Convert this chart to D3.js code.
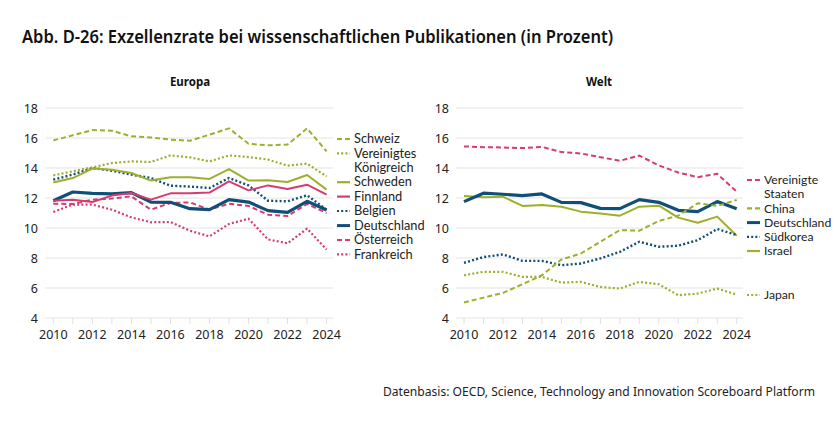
<!DOCTYPE html>
<html><head><meta charset="utf-8">
<script src="https://cdn.jsdelivr.net/npm/d3@7/dist/d3.min.js"></script>
<style>
body{margin:0;background:#fff;}
svg{display:block;font-family:"Noto Sans","Open Sans",sans-serif;}
</style></head>
<body>
<script>
const years = [2010,2011,2012,2013,2014,2015,2016,2017,2018,2019,2020,2021,2022,2023,2024];
const yTicks = [4,6,8,10,12,14,16,18];
const xTicks = [2010,2012,2014,2016,2018,2020,2022,2024];

// Europa
const schweiz      = [15.84,16.18,16.53,16.49,16.11,16.04,15.89,15.82,16.22,16.64,15.62,15.51,15.56,16.64,15.11];
const vereinigtesK = [13.51,13.78,14.04,14.33,14.44,14.40,14.84,14.71,14.44,14.84,14.73,14.56,14.16,14.29,13.44];
const schweden     = [13.04,13.33,13.96,13.89,13.67,13.16,13.38,13.38,13.27,13.93,13.16,13.18,13.07,13.53,12.56];
const finnland     = [11.82,11.89,11.73,12.16,12.33,11.89,12.31,12.31,12.36,13.11,12.51,12.84,12.60,12.89,12.22];
const belgien      = [13.22,13.56,14.00,13.82,13.56,13.33,12.82,12.76,12.67,13.33,12.84,11.82,11.78,12.18,11.22];
const deutschlandE = [11.82,12.40,12.31,12.27,12.36,11.73,11.71,11.29,11.22,11.89,11.73,11.16,11.04,11.78,11.20];
const oesterreich  = [11.62,11.60,11.89,11.96,12.11,11.22,11.67,11.71,11.22,11.62,11.47,10.89,10.80,11.60,11.00];
const frankreich   = [11.07,11.56,11.56,11.22,10.71,10.38,10.40,9.82,9.44,10.27,10.62,9.24,8.98,9.96,8.56];

// Welt
const usa          = [15.44,15.39,15.37,15.33,15.41,15.06,14.97,14.72,14.48,14.83,14.17,13.70,13.39,13.61,12.43];
const china        = [5.03,5.36,5.67,6.25,6.85,7.90,8.30,9.08,9.86,9.82,10.47,10.82,11.65,11.47,11.87];
const deutschlandW = [11.76,12.32,12.25,12.16,12.27,11.71,11.69,11.31,11.29,11.89,11.71,11.18,11.09,11.76,11.29];
const suedkorea    = [7.68,8.06,8.24,7.81,7.81,7.52,7.63,7.97,8.41,9.08,8.75,8.82,9.19,9.93,9.53];
const israel       = [12.14,12.05,12.09,11.47,11.54,11.42,11.09,10.96,10.82,11.42,11.49,10.69,10.35,10.76,9.48];
const japan        = [6.85,7.08,7.08,6.74,6.74,6.36,6.41,6.07,5.96,6.41,6.25,5.52,5.63,5.96,5.56];

const labelsEuropa = [["Schweiz"],["Vereinigtes","Königreich"],["Schweden"],["Finnland"],["Belgien"],["Deutschland"],["Österreich"],["Frankreich"]];
const labelsWelt   = [["Vereinigte","Staaten"],["China"],["Deutschland"],["Südkorea"],["Israel"],["Japan"]];

const GREEN="#9fae2b", PINK="#d63c70", BLUE="#0f4f78";
const DASH="5,3", DOT="2,2.2";

const europa = [
  {v:schweiz, c:GREEN, d:DASH, w:2},
  {v:vereinigtesK, c:GREEN, d:DOT, w:2.2},
  {v:schweden, c:GREEN, d:null, w:2},
  {v:finnland, c:PINK, d:null, w:2},
  {v:belgien, c:BLUE, d:DOT, w:2.4},
  {v:deutschlandE, c:BLUE, d:null, w:3.2},
  {v:oesterreich, c:PINK, d:DASH, w:2},
  {v:frankreich, c:PINK, d:DOT, w:2.2}
];
const welt = [
  {v:usa, c:PINK, d:DASH, w:2},
  {v:china, c:GREEN, d:DASH, w:2},
  {v:deutschlandW, c:BLUE, d:null, w:3.2},
  {v:suedkorea, c:BLUE, d:DOT, w:2.4},
  {v:israel, c:GREEN, d:null, w:2},
  {v:japan, c:GREEN, d:DOT, w:2.2}
];

const W=840,H=422;
const svg=d3.select("body").append("svg").attr("width",W).attr("height",H);

svg.append("text").attr("x",22).attr("y",43)
  .attr("font-size",18).attr("font-weight",600).attr("fill","#111")
  .attr("textLength",591).attr("lengthAdjust","spacingAndGlyphs")
  .text("Abb. D-26: Exzellenzrate bei wissenschaftlichen Publikationen (in Prozent)");

function panel(opt){
  const x=d3.scaleLinear().domain([2010,2024]).range([opt.x0,opt.x1]);
  const y=d3.scaleLinear().domain([4,18]).range([318,108]);
  const g=svg.append("g");
  g.append("text").attr("x",opt.titleX).attr("y",86).attr("text-anchor","middle")
    .attr("font-size",11.5).attr("font-weight",700).attr("fill","#111").text(opt.title);
  g.selectAll("line.grid").data(yTicks).join("line")
    .attr("x1",opt.g0).attr("x2",opt.g1).attr("y1",d=>y(d)).attr("y2",d=>y(d))
    .attr("stroke","#e4e4e4").attr("stroke-width",1);
  g.selectAll("text.yl").data(yTicks).join("text")
    .attr("x",opt.g0-7).attr("y",d=>y(d)+4.5).attr("text-anchor","end")
    .attr("font-size",12.5).attr("fill","#222").text(d=>d);
  g.selectAll("line.xt").data(years).join("line")
    .attr("x1",d=>x(d)).attr("x2",d=>x(d)).attr("y1",318).attr("y2",324)
    .attr("stroke","#e0e0e0").attr("stroke-width",1);
  g.selectAll("text.xl").data(xTicks).join("text")
    .attr("x",d=>x(d)).attr("y",339).attr("text-anchor","middle")
    .attr("font-size",12.5).attr("fill","#222").text(d=>d);
  const line=d3.line().x((d,i)=>x(years[i])).y(d=>y(d));
  opt.series.slice().reverse().forEach(s=>{
    g.append("path").attr("d",line(s.v)).attr("fill","none")
      .attr("stroke",s.c).attr("stroke-width",s.w)
      .attr("stroke-dasharray",s.d).attr("stroke-linejoin","round");
  });
  opt.series.forEach((s,i)=>{
    const ly=opt.legY[i];
    g.append("line").attr("x1",opt.lx).attr("x2",opt.lx+13).attr("y1",ly).attr("y2",ly)
      .attr("stroke",s.c).attr("stroke-width",s.w>3?3:2.2).attr("stroke-dasharray",s.d);
    opt.labels[i].forEach((l,j)=>{
      g.append("text").attr("x",opt.lx+17).attr("y",ly+4.2+j*opt.lineH)
        .attr("font-family","Lato, 'Noto Sans', sans-serif")
        .attr("font-size",opt.fs).attr("fill","#222").text(l);
    });
  });
}

panel({title:"Europa",titleX:190,x0:53.3,x1:326.6,g0:45,g1:333,series:europa,labels:labelsEuropa,
  lx:337,lineH:14.4,fs:12.8,legY:[139,153.4,182.2,196.6,211,225.6,240,254.4]});
panel({title:"Welt",titleX:599,x0:464,x1:736.7,g0:456,g1:743,series:welt,labels:labelsWelt,
  lx:747,lineH:14.2,fs:12.2,legY:[180,208.4,222.6,236.8,251,295]});

svg.append("text").attr("x",383).attr("y",396).attr("font-size",12.5).attr("fill","#222")
  .attr("textLength",432).attr("lengthAdjust","spacingAndGlyphs")
  .text("Datenbasis: OECD, Science, Technology and Innovation Scoreboard Platform");
</script>
</body></html>
